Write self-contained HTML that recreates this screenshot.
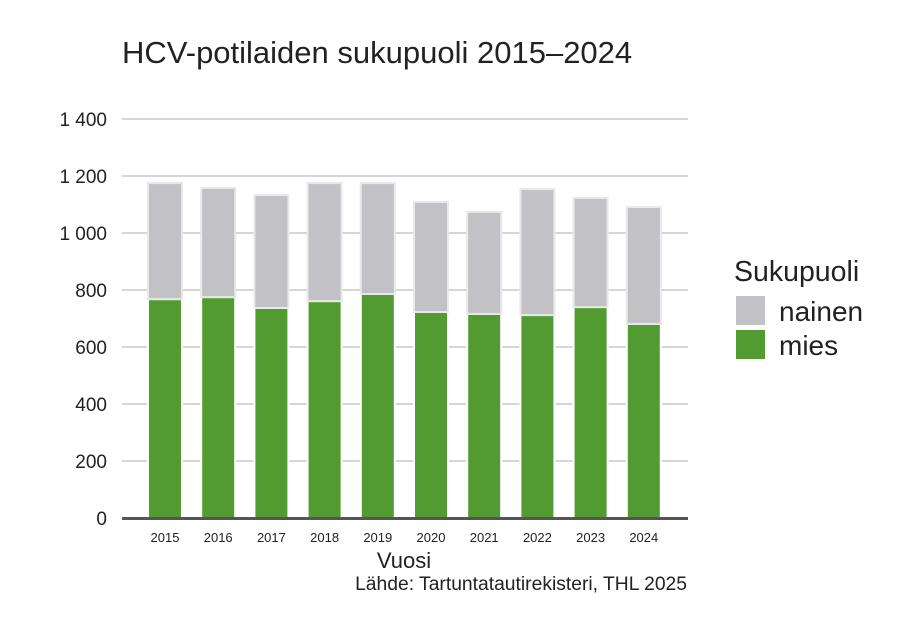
<!DOCTYPE html>
<html><head><meta charset="utf-8"><style>
body{margin:0;background:#fff;}
svg{display:block;font-family:"Liberation Sans",sans-serif;}
</style></head><body>
<svg id="chart" width="920" height="629" viewBox="0 0 920 629">
<text x="122" y="63" font-size="31" fill="#222">HCV-potilaiden sukupuoli 2015–2024</text>
<g id="grid"></g><g id="bars"></g><g id="xlabels"></g>
<line x1="122" y1="518.5" x2="688" y2="518.5" stroke="#555" stroke-width="3"/>
<text x="404" y="568" font-size="22" fill="#222" text-anchor="middle">Vuosi</text>
<text x="687" y="590" font-size="19.3" fill="#222" text-anchor="end">Lähde: Tartuntatautirekisteri, THL 2025</text>
<g>
<text x="734" y="281" font-size="28.5" fill="#222">Sukupuoli</text>
<rect x="736" y="296" width="29" height="29" fill="#c2c1c5"/>
<text x="779" y="321" font-size="28" fill="#222">nainen</text>
<rect x="736" y="330" width="29" height="29" fill="#529b30"/>
<text x="779" y="355" font-size="28" fill="#222">mies</text>
</g>
</svg>
<script>
const years=["2015","2016","2017","2018","2019","2020","2021","2022","2023","2024"];
const mies=[768,775,737,761,786,723,716,712,740,681];
const nainen=[407,383,396,414,389,386,358,442,383,410];
const yTicks=[0,200,400,600,800,1000,1200,1400];
const yTickLabels=["0","200","400","600","800","1 000","1 200","1 400"];
const NS="http://www.w3.org/2000/svg";
const y=v=>518-v*0.285;
const x0=138.4, step=53.2, bw=34;
const xc=i=>x0+step*(i+0.5);
function mk(t,a,p){const e=document.createElementNS(NS,t);for(const k in a)e.setAttribute(k,a[k]);p.appendChild(e);return e;}
const grid=document.getElementById('grid');
yTicks.forEach((v,i)=>{
 if(v>0){const l=mk('line',{x1:122,x2:688,y1:y(v),y2:y(v),stroke:'#c8c8c8','stroke-width':1.5},grid);
 
 }
 const t=mk('text',{x:107,y:y(v)+7,'font-size':19,fill:'#222','text-anchor':'end'},grid);
 t.textContent=yTickLabels[i];
 
 
});
const bars=document.getElementById('bars'), xl=document.getElementById('xlabels');
years.forEach((yr,i)=>{
 const m=mk('rect',{x:xc(i)-bw/2,y:y(mies[i]),width:bw,height:y(0)-y(mies[i]),fill:'#529b30',stroke:'#fff','stroke-width':2},bars);
 
 
 const n=mk('rect',{x:xc(i)-bw/2,y:y(mies[i]+nainen[i]),width:bw,height:y(mies[i])-y(mies[i]+nainen[i]),fill:'#c2c1c5',stroke:'#e8e8ea','stroke-width':2},bars);
 
 
 const t=mk('text',{x:xc(i),y:542,'font-size':13,fill:'#222','text-anchor':'middle'},xl);
 t.textContent=yr;
 
 
});
</script>
</body></html>
